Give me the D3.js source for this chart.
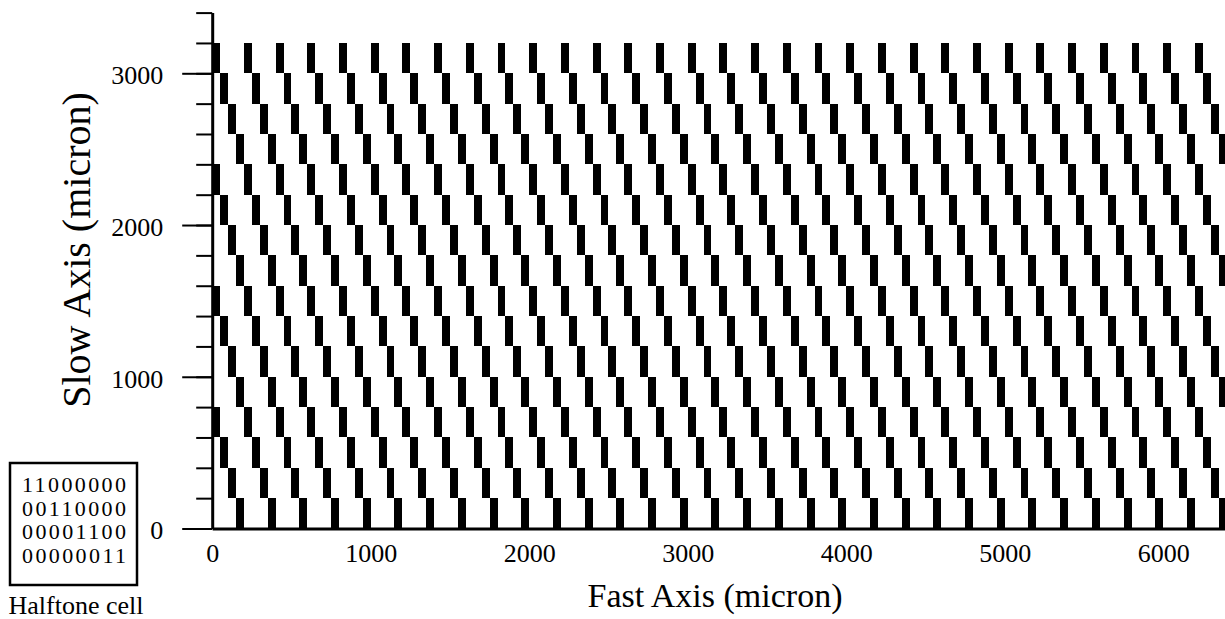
<!DOCTYPE html>
<meta charset="utf-8">
<style>
body { margin: 0; background: #fff; }
text { font-family: "Liberation Serif", "Times New Roman", serif; fill: #000; }
.axis path, .axis line { stroke: #000; }
</style>
<head>
    <title>Halftone Scan Pattern</title>
</head>

<script src="https://d3js.org/d3.v7.min.js"></script>

<div id="chart"></div>

<script>
// halftone cell, top row first (1 = black dot)
var cellRows = ["11000000", "00110000", "00001100", "00000011"];
var dotWidth = 25;      // micron per dot along the fast axis
var lineHeight = 200;   // micron per scan line along the slow axis
var numLines = 16;      // scan lines drawn (0 - 3200)
var numCells = 32;      // cells repeated along the fast axis (0 - 6400)
var xTicks = [0, 1000, 2000, 3000, 4000, 5000, 6000];
var yTicks = [0, 200, 400, 600, 800, 1000, 1200, 1400, 1600, 1800, 2000,
              2200, 2400, 2600, 2800, 3000, 3200, 3400];
var yLabels = [0, 1000, 2000, 3000];
var xMax = 6400, yMax = 3400;

var width = 1225, height = 619;

var svg = d3.select("#chart")
  .append("svg")
    .attr("width", width)
    .attr("height", height);

var x = d3.scaleLinear()
    .domain([0, xMax])
    .range([212.2, 1226.6]);

var y = d3.scaleLinear()
    .domain([0, yMax])
    .range([528.5, 12.6]);

// build the dots: each run of 1s in a cell row becomes one rect
var dots = [];
for (var i = 0; i < numLines; i++) {
  var row = cellRows[cellRows.length - 1 - (i % cellRows.length)];
  var runs = [];
  var s = -1;
  for (var j = 0; j <= row.length; j++) {
    if (row[j] === "1" && s < 0) s = j;
    if (row[j] !== "1" && s >= 0) { runs.push([s, j - s]); s = -1; }
  }
  for (var c = 0; c < numCells; c++) {
    runs.forEach(function(r) {
      dots.push({
        x0: (c * row.length + r[0]) * dotWidth,
        x1: (c * row.length + r[0] + r[1]) * dotWidth,
        y0: i * lineHeight,
        y1: (i + 1) * lineHeight
      });
    });
  }
}

svg.append("g")
  .selectAll("rect")
  .data(dots)
  .enter()
  .append("rect")
    .attr("x", function(d) { return x(d.x0); })
    .attr("y", function(d) { return y(d.y1); })
    .attr("width", function(d) { return x(d.x1) - x(d.x0); })
    .attr("height", function(d) { return y(d.y0) - y(d.y1); })
    .attr("fill", "#000")
    .attr("shape-rendering", "crispEdges");

// Y axis: minor ticks every 200, long ticks with labels every 1000
svg.append("g")
    .attr("class", "axis")
    .attr("transform", "translate(" + x(0) + ",0)")
    .call(d3.axisLeft(y).tickValues(yTicks).tickSize(16).tickSizeOuter(0).tickFormat(""))
    .call(function(g) { g.selectAll("line").attr("stroke-width", 2); })
    .call(function(g) { g.select(".domain").attr("stroke-width", 3); });

svg.append("g")
    .attr("class", "axis")
    .attr("transform", "translate(" + x(0) + ",0)")
    .call(d3.axisLeft(y).tickValues(yLabels).tickSize(30).tickSizeOuter(0)
            .tickPadding(19).tickFormat(d3.format("d")))
    .call(function(g) { g.select(".domain").remove(); })
    .call(function(g) { g.selectAll("line").attr("stroke-width", 2); })
    .selectAll("text")
      .attr("dy", "0.4em")
      .style("font-size", "26px")
      .style("font-family", "Liberation Serif, serif");

// X axis: no ticks, just the labels
svg.append("g")
    .attr("class", "axis")
    .attr("transform", "translate(0," + y(0) + ")")
    .call(d3.axisBottom(x).tickValues(xTicks).tickSize(0).tickSizeOuter(0)
            .tickPadding(15).tickFormat(d3.format("d")))
    .call(function(g) { g.select(".domain").attr("stroke-width", 3); })
    .selectAll("text")
      .style("font-size", "26px")
      .style("font-family", "Liberation Serif, serif");

// axis titles
svg.append("text")
    .attr("x", 715)
    .attr("y", 607)
    .attr("text-anchor", "middle")
    .style("font-size", "34px")
    .text("Fast Axis (micron)");

svg.append("text")
    .attr("transform", "translate(90,250)rotate(-90)")
    .attr("text-anchor", "middle")
    .style("font-size", "40px")
    .text("Slow Axis (micron)");

// halftone cell legend
svg.append("rect")
    .attr("x", 10)
    .attr("y", 463)
    .attr("width", 127)
    .attr("height", 122)
    .attr("fill", "none")
    .attr("stroke", "#000")
    .attr("stroke-width", 2.5);

svg.append("g")
  .selectAll("text")
  .data(cellRows)
  .enter()
  .append("text")
    .attr("x", 74)
    .attr("y", function(d, i) { return 492 + i * 23.5; })
    .attr("text-anchor", "middle")
    .attr("textLength", 104)
    .style("font-size", "22px")
    .text(function(d) { return d; });

svg.append("text")
    .attr("x", 76)
    .attr("y", 614)
    .attr("text-anchor", "middle")
    .style("font-size", "26px")
    .text("Halftone cell");
</script>
